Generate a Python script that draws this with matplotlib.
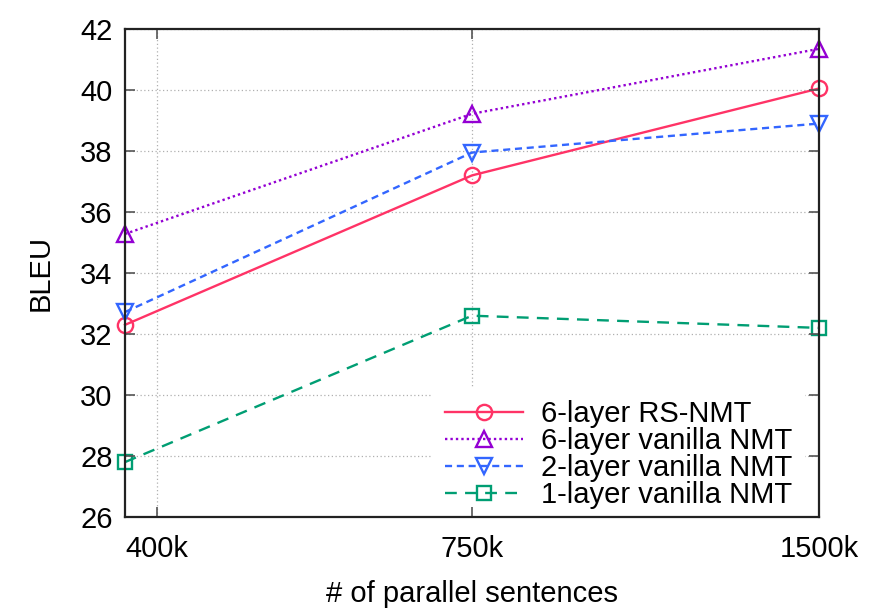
import matplotlib
matplotlib.use("Agg")
import matplotlib.pyplot as plt

plt.rcParams['font.family'] = ['Liberation Sans', 'DejaVu Sans']

# data (x = number of parallel sentences in thousands)
sizes = [375, 750, 1500]
tick_pos = [400, 750, 1500]
tick_labels = ["400k", "750k", "1500k"]
rs_6 = [32.3, 37.2, 40.05]
van_6 = [35.28, 39.22, 41.35]
van_2 = [32.72, 37.95, 38.9]
van_1 = [27.8, 32.6, 32.2]
labels = ["6-layer RS-NMT", "6-layer vanilla NMT", "2-layer vanilla NMT", "1-layer vanilla NMT"]

fig = plt.figure(figsize=(8.72, 6.10), dpi=100)
pos = [125/872, 1 - 517/610, (819-125)/872, (517-29)/610]
ax = fig.add_axes(pos)

lw = 1.7
ms = 11
kw = dict(lw=lw, ms=ms, mfc='none', mew=1.7, zorder=3, clip_on=False)
ax.plot(sizes, rs_6, color='#ff3366', ls='-', marker='o', label=labels[0], **kw)
ax.plot(sizes, van_6, color='#9400d3', ls=(0, (1, 1.3)), marker='^', label=labels[1], **kw)
ax.plot(sizes, van_2, color='#3366ff', ls=(0, (3, 2)), marker='v', label=labels[2], **kw)
kw['ms'] = 9.5
ax.plot(sizes, van_1, color='#009e73', ls=(0, (5, 3.5)), marker='s', label=labels[3], **kw)

ax.set_xscale('log')
ax.set_xlim(375, 1500)
ax.set_ylim(26, 42)
ax.set_xticks(tick_pos)
ax.set_xticklabels(tick_labels)
ax.minorticks_off()
ax.set_yticks(range(26, 43, 2))

ax.grid(True, color='#b0b0b0', ls=(0, (1, 2)), lw=0.9)
ax.set_axisbelow(True)
ax.tick_params(direction='in', length=0, labelsize=21, labelcolor='black')
ax.tick_params(axis='x', pad=13)
ax.tick_params(axis='y', pad=9)
for s in ax.spines.values():
    s.set_visible(False)

ax.set_xlabel("# of parallel sentences", fontsize=21, labelpad=12)
ax.set_ylabel("BLEU", fontsize=21, labelpad=18)

leg = ax.legend(loc='lower right', bbox_to_anchor=(805/872, (610-522)/610),
                bbox_transform=fig.transFigure,
                fontsize=21, frameon=True, framealpha=1,
                edgecolor='none', fancybox=False, handlelength=2.67,
                handletextpad=0.6, labelspacing=-0.04, borderaxespad=0,
                borderpad=0.45)
leg.set_zorder(5)

# frame and tick marks drawn on top of everything (gnuplot style)
ax2 = fig.add_axes(pos, sharex=ax, sharey=ax)
ax2.patch.set_visible(False)
ax2.tick_params(direction='in', length=7, width=1.2, color='#555555',
                top=True, right=True, labelbottom=False, labelleft=False)
ax2.minorticks_off()
for s in ax2.spines.values():
    s.set_linewidth(1.6)
    s.set_color('#222222')

fig.savefig("out.png", dpi=100)
